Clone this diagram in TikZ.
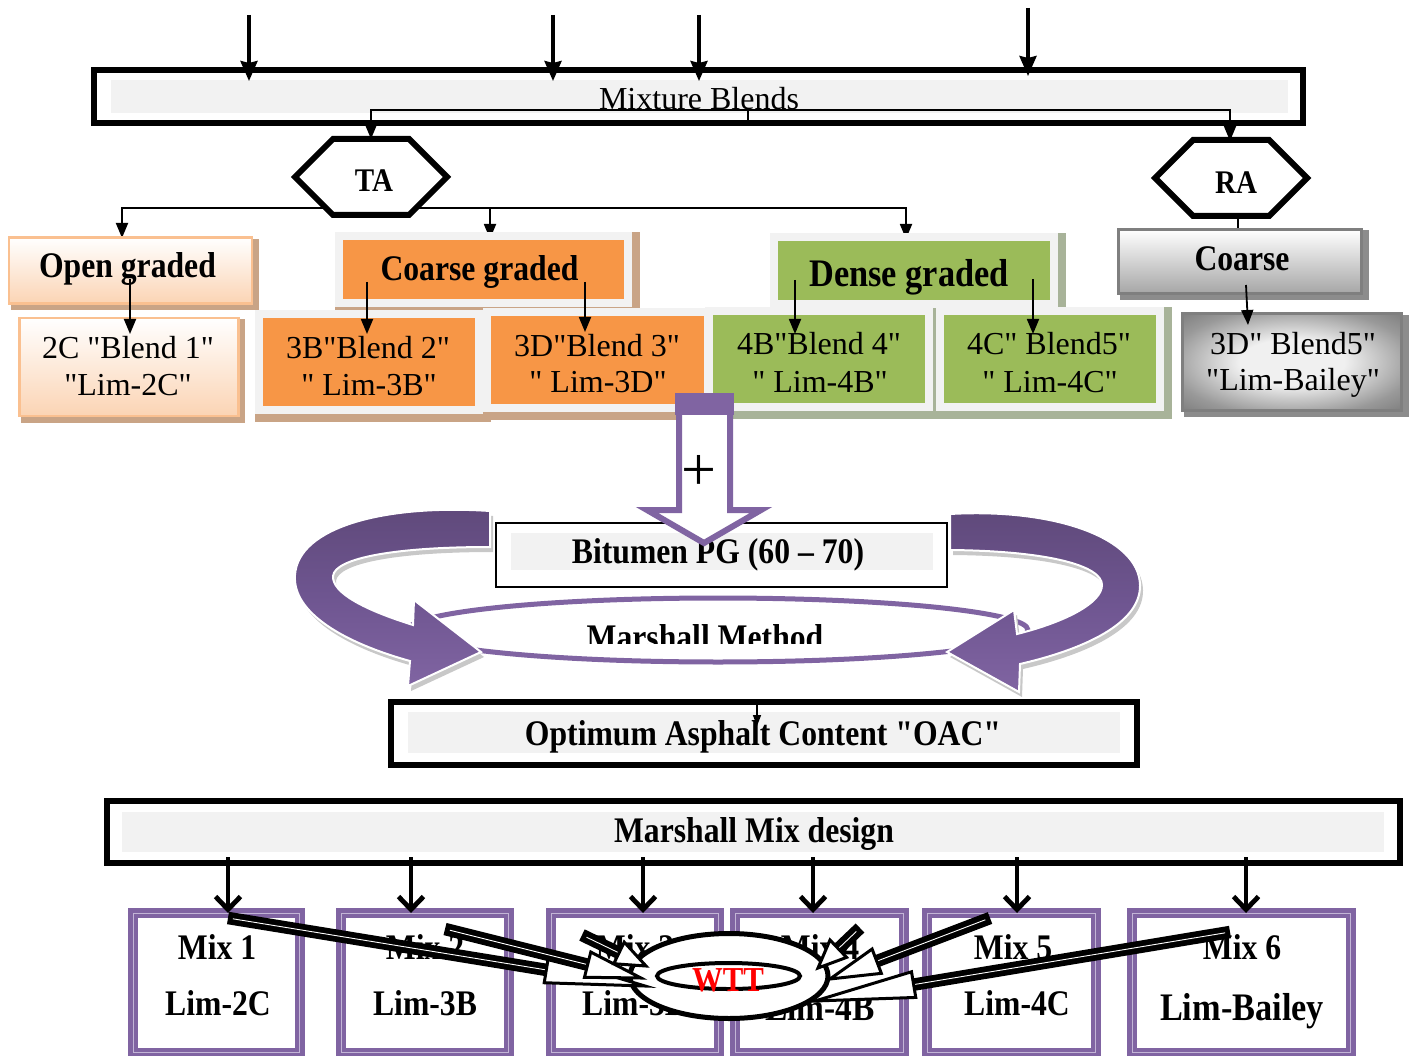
\documentclass[tikz,border=0pt]{standalone}
\usepackage{fontspec}
\setmainfont{Liberation Serif}
\newfontfamily\rreg{Liberation Serif}
\newfontfamily\bcond{Liberation Serif}[FakeStretch=0.88]
\usetikzlibrary{arrows.meta,calc,shapes.geometric}
\pgfdeclarelayer{back}
\pgfdeclarelayer{shad}
\pgfsetlayers{back,shad,main}
\definecolor{purp}{HTML}{8064A2}
\definecolor{purpdark}{HTML}{5F497A}
\definecolor{purpmid}{HTML}{6E5590}
\definecolor{lav}{HTML}{C3B5D6}
\definecolor{orng}{HTML}{F79646}
\definecolor{grn}{HTML}{9BBB59}
\definecolor{lgray}{HTML}{F2F2F2}
\definecolor{peach}{HTML}{FBD4B4}
\definecolor{peachb}{HTML}{FAC090}
\definecolor{shadtan}{HTML}{C9A486}
\definecolor{shadgrn}{HTML}{A8B399}
\definecolor{shadgry}{HTML}{8C8C8C}
\definecolor{dgray}{HTML}{7F7F7F}
\definecolor{mgray}{HTML}{A6A6A6}
\definecolor{radout}{HTML}{4E4E4E}
\definecolor{radmid}{HTML}{999999}
\definecolor{radin}{HTML}{F0F0F0}
\definecolor{ribshadow}{HTML}{C8C8C8}
\pgfdeclareradialshading{bailey}{\pgfpoint{0bp}{0bp}}{color(0bp)=(radin); color(12bp)=(radin); color(28bp)=(radmid); color(50bp)=(radout)}

\newcommand\shadowof[2]{%
  \begin{pgfonlayer}{shad}
    \filldraw[#2] ([shift={(4pt,-4pt)}]#1.north west) rectangle ([shift={(4pt,-4pt)}]#1.south east);
  \end{pgfonlayer}}

\newcommand\wtarrow[4]{%
  \coordinate (hb) at ($(#2)!#3!(#1)$);
  \coordinate (hl) at ($(hb)!#4!90:(#2)$);
  \coordinate (hr) at ($(hb)!#4!-90:(#2)$);
  \draw[line width=12.5pt] (#1) -- (hb);
  \draw[white, line width=0.9pt] ($(#1)!5pt!(hb)$) -- (hb);
  \draw[line width=3pt, fill=white, line join=miter] (hl) -- (#2) -- (hr) -- cycle;
}

\begin{document}
\begin{tikzpicture}[x=1pt,y=-1pt,
  regtxt/.style={font=\rreg\fontsize{32}{36}\selectfont, inner sep=0pt, anchor=base},
  bldtxt/.style={font=\bcond\bfseries\fontsize{#1}{#1}\selectfont, inner sep=0pt, anchor=base},
  bldtxt/.default=36,
  thin arrow/.style={line width=1.8pt, -{Triangle[length=15pt,width=12pt]}},
  inarrow/.style={line width=3.5pt, -{Stealth[length=20pt,width=17pt,inset=2pt]}},
  mix arrow/.style={line width=4.8pt, -{Straight Barb[length=13pt,width=25pt]}},
  thickbox/.style={draw, line width=6pt, inner sep=0pt},
  hexa/.style={line width=6pt, fill=white, line join=miter},
  peachbox/.style={draw=peachb, line width=2.5pt, top color=white, bottom color=peach, inner sep=0pt},
  orangebox/.style={draw=lgray, line width=8pt, fill=orng, inner sep=0pt},
  greenbox/.style={draw=lgray, line width=8pt, fill=grn, inner sep=0pt},
  graybox/.style={draw=dgray, line width=3pt, top color=white, bottom color=mgray, inner sep=0pt},
  radbox/.style={draw=dgray, line width=3pt, shading=bailey, inner sep=0pt},
  mixbox/.style={draw=purp, line width=8.5pt, inner sep=0pt},
  leftrib/.pic={\path[pic actions] (490,511) .. controls (385,504) and (298,527) .. (295,575)
      .. controls (292,613) and (345,643) .. (410,661) -- (408,686) -- (481,652) -- (414,600)
      -- (413,625) .. controls (365,610) and (332,593) .. (333,576)
      .. controls (335,558) and (395,547) .. (490,547) -- cycle;},
  rightrib/.pic={\path[pic actions] (950,514) .. controls (1055,508) and (1139,538) .. (1140,585)
      .. controls (1141,623) and (1085,649) .. (1020,664) -- (1019,692) -- (947,652) -- (1014,610)
      -- (1017,634) .. controls (1065,622) and (1102,603) .. (1102,585)
      .. controls (1102,566) and (1050,551) .. (950,550) -- cycle;}
]
\useasboundingbox (0,0) rectangle (1410,1056);
\begin{pgfonlayer}{back}\fill[white] (0,0) rectangle (1410,1056);\end{pgfonlayer}

% ---------- Mixture Blends ----------
\fill[lgray] (111,80) rectangle (1288,113);
\node[thickbox, minimum width=1209pt, minimum height=53pt] (mixbox) at (698.5,96.5) {};
\node[regtxt] (mixtxt) at (699,110) {Mixture Blends};

\foreach \i/\x/\ya/\yb in {1/249/15/81, 2/553/15/81, 3/699/15/81, 4/1028/8/76}{
  \coordinate (in\i s) at (\x,\ya);
  \coordinate (in\i e) at (\x,\yb);
  \draw[inarrow] (in\i s) -- (in\i e);
}

% ---------- TA bus ----------
\coordinate (tabus) at (371,208);
\coordinate (ogin) at (122,238);
\coordinate (cgin) at (490,239);
\coordinate (dgin) at (906,239);
\draw[thin arrow] (tabus) -| (ogin);
\draw[thin arrow] (tabus) -| (cgin);
\draw[thin arrow] (tabus) -| (dgin);

% ---------- hexagons ----------
\draw[hexa] (295,177) -- (333,139) -- (409,139) -- (447,177) -- (409,215) -- (333,215) -- cycle;
\node[bldtxt=33] (TA) at (374,192) {TA};
\draw[hexa] (1155,178) -- (1193,140) -- (1269,140) -- (1307,178) -- (1269,216) -- (1193,216) -- cycle;
\node[bldtxt=33] (RA) at (1236,194) {RA};

\coordinate (mbstem) at (748,123);
\coordinate (mbbus) at (748,110);
\coordinate (tain) at (371,139);
\coordinate (rain) at (1230,141);
\draw[line width=1.8pt] (mbstem) -- (mbbus);
\draw[thin arrow] (mbbus) -| (tain);
\draw[thin arrow] (mbbus) -| (rain);

\coordinate (raout) at (1238,216);
\coordinate (crin) at (1238,246);
\draw[thin arrow] (raout) -- (crin);

% ---------- row 1 ----------
\node[peachbox, minimum width=243pt, minimum height=66pt] (ogbox) at (130.5,270.5) {};
\node[orangebox, minimum width=289pt, minimum height=67pt] (cgbox) at (483.5,269.5) {};
\node[greenbox, minimum width=280pt, minimum height=67pt] (dgbox) at (914,270.5) {};
\node[graybox, minimum width=243pt, minimum height=64pt] (crbox) at (1240,261.5) {};
\shadowof{ogbox}{shadtan, line width=2.5pt}
\shadowof{cgbox}{shadtan, line width=8pt}
\shadowof{dgbox}{shadgrn, line width=8pt}
\shadowof{crbox}{shadgry, line width=3pt}
\node[bldtxt] (ogtxt) at (127.5,278) {Open graded};
\node[bldtxt] (cgtxt) at (479.5,281) {Coarse graded};
\node[bldtxt=39] (dgtxt) at (909,287) {Dense graded};
\node[bldtxt] (crtxt) at (1242,271) {Coarse};

% ---------- row 2 ----------
\node[peachbox, minimum width=219pt, minimum height=98pt] (b1) at (129,367) {};
\node[orangebox, minimum width=220pt, minimum height=96pt] (b2) at (369,362) {};
\node[orangebox, minimum width=221pt, minimum height=96pt] (b3) at (597.5,360) {};
\node[greenbox, minimum width=220pt, minimum height=96pt] (b4) at (819,359) {};
\node[greenbox, minimum width=220pt, minimum height=96pt] (b5) at (1050,359) {};
\node[radbox, minimum width=219pt, minimum height=96pt] (b6) at (1292,362) {};
\shadowof{b1}{shadtan, line width=2.5pt}
\shadowof{b2}{shadtan, line width=8pt}
\shadowof{b3}{shadtan, line width=8pt}
\shadowof{b4}{shadgrn, line width=8pt}
\shadowof{b5}{shadgrn, line width=8pt}
\shadowof{b6}{shadgry, line width=3pt}
\node[regtxt] (b1a) at (128,359) {2C "Blend 1"};
\node[regtxt] (b1b) at (128,395) {"Lim-2C"};
\node[regtxt] (b2a) at (368,358) {3B"Blend 2"};
\node[regtxt] (b2b) at (369,395) {" Lim-3B"};
\node[regtxt] (b3a) at (597,356) {3D"Blend 3"};
\node[regtxt] (b3b) at (598,392) {" Lim-3D"};
\node[regtxt] (b4a) at (819,355) {4B"Blend 4"};
\node[regtxt] (b4b) at (820,392) {" Lim-4B"};
\node[regtxt] (b5a) at (1049,355) {4C" Blend5"};
\node[regtxt] (b5b) at (1050,392) {" Lim-4C"};
\node[regtxt] (b6a) at (1293,355) {3D" Blend5"};
\node[regtxt] (b6b) at (1293,390) {"Lim-Bailey"};

\foreach \i/\xa/\ya/\xb/\yb in {1/130/279/130/334, 2/367/282/367/334, 3/585/282/585/332,
    4/795/280/795/334, 5/1033/279/1033/334, 6/1246/285/1248/325}{
  \coordinate (r\i s) at (\xa,\ya);
  \coordinate (r\i e) at (\xb,\yb);
  \draw[thin arrow] (r\i s) -- (r\i e);
}

% ---------- Marshall method loop ----------
\node[ellipse, draw=purp, line width=5pt, minimum width=620pt, minimum height=64pt, inner sep=0pt] (mmell) at (718,630) {};
\pic[fill=ribshadow] at (3,5) {leftrib};
\pic[fill=ribshadow] at (3,5) {rightrib};
\pic[draw=white, line width=2pt, top color=purpdark, bottom color=purp, middle color=purpmid] at (0,0) {leftrib};
\pic[draw=white, line width=2pt, top color=purpdark, bottom color=purp, middle color=purpmid] at (0,0) {rightrib};
\begin{scope}
  \clip (560,600) rectangle (860,643);
  \node[bldtxt] (mmtxt) at (705,649) {Marshall Method};
\end{scope}

\node[draw, line width=2pt, fill=white, minimum width=451pt, minimum height=64pt, inner sep=0pt] (bitbox) at (721.5,555) {};
\fill[lgray] (511,533) rectangle (933,570);
\node[bldtxt] (bittxt) at (718,563) {Bitumen PG (60 – 70)};

\draw[purp, line width=6pt, fill=white, line join=miter] (679,397) -- (730,397) -- (730,510) -- (761,510) -- (704,543) -- (647,510) -- (679,510) -- cycle;
\fill[purp] (675,393) rectangle (734,415);
\node[font=\rreg\fontsize{62}{62}\selectfont, inner sep=0pt] (plus) at (699,473) {+};

% ---------- OAC ----------
\fill[lgray] (408,712) rectangle (1120,753);
\node[thickbox, minimum width=746pt, minimum height=63pt] (oacbox) at (764,733.5) {};
\node[bldtxt] (oactxt) at (763,745) {Optimum Asphalt Content "OAC"};
\coordinate (oacs) at (757,700);
\coordinate (oace) at (757,726);
\draw[line width=1.5pt, -{Triangle[length=11pt,width=8pt]}] (oacs) -- (oace);

% ---------- Marshall Mix design ----------
\fill[lgray] (122,812) rectangle (1384,852);
\node[thickbox, minimum width=1293pt, minimum height=62pt] (mmdbox) at (753.5,832) {};
\node[bldtxt] (mmdtxt) at (754,842) {Marshall Mix design};

\foreach \i/\cx/\w in {1/216.5/169, 2/425/170, 3/635/170, 4/819.5/171, 5/1011.5/171, 6/1241.5/221}{
  \node[mixbox, minimum width=\w pt, minimum height=142pt] (mix\i) at (\cx,983) {};
  \draw[lav, line width=1pt] ([shift={(5.5pt,-5.5pt)}]mix\i.north west) rectangle ([shift={(-5.5pt,5.5pt)}]mix\i.south east);
  \draw[purp, line width=2.5pt] ([shift={(9pt,-9pt)}]mix\i.north west) rectangle ([shift={(-9pt,9pt)}]mix\i.south east);
}
\foreach \i/\x in {1/228, 2/411, 3/643, 4/813, 5/1017, 6/1246}{
  \coordinate (ma\i s) at (\x,857);
  \coordinate (ma\i e) at (\x,913);
  \draw[mix arrow] (ma\i s) -- (ma\i e);
}
\node[bldtxt] (m1a) at (217,959) {Mix 1};
\node[bldtxt] (m1b) at (218,1015) {Lim-2C};
\node[bldtxt] (m2a) at (425,959) {Mix 2};
\node[bldtxt] (m2b) at (425,1015) {Lim-3B};
\node[bldtxt] (m3a) at (635,959) {Mix 3};
\node[bldtxt] (m3b) at (635,1015) {Lim-3D};
\node[bldtxt] (m4a) at (820,959) {Mix 4};
\node[bldtxt=38] (m4b) at (820,1020) {Lim-4B};
\node[bldtxt] (m5a) at (1013,959) {Mix 5};
\node[bldtxt] (m5b) at (1017,1015) {Lim-4C};
\node[bldtxt] (m6a) at (1242,959) {Mix 6};
\node[bldtxt=39] (m6b) at (1242,1020) {Lim-Bailey};

% ---------- WTT ----------
\node[ellipse, draw, line width=5pt, fill=white, minimum width=198pt, minimum height=85pt, inner sep=0pt] (wttout) at (729,976) {};
\node[ellipse, draw, line width=4pt, minimum width=143pt, minimum height=26pt, inner sep=0pt] (wttin) at (728.5,976) {};
\node[bldtxt=35, text=red] (wtt) at (728,991) {WTT};

\coordinate (w1s) at (228,918);  \coordinate (w1e) at (645,986);
\coordinate (w2s) at (445,929);  \coordinate (w2e) at (641,978);
\coordinate (w3s) at (582,935);  \coordinate (w3e) at (646,966);
\coordinate (w4s) at (860,928);  \coordinate (w4e) at (818,968);
\coordinate (w5s) at (990,918);  \coordinate (w5e) at (830,979);
\coordinate (w6s) at (1230,932); \coordinate (w6e) at (815,1001);
\wtarrow{w1s}{w1e}{100pt}{13pt}
\wtarrow{w2s}{w2e}{55pt}{13pt}
\wtarrow{w3s}{w3e}{30pt}{12pt}
\wtarrow{w4s}{w4e}{28pt}{12pt}
\wtarrow{w5s}{w5e}{50pt}{13pt}
\wtarrow{w6s}{w6e}{100pt}{13pt}
\end{tikzpicture}
\end{document}
